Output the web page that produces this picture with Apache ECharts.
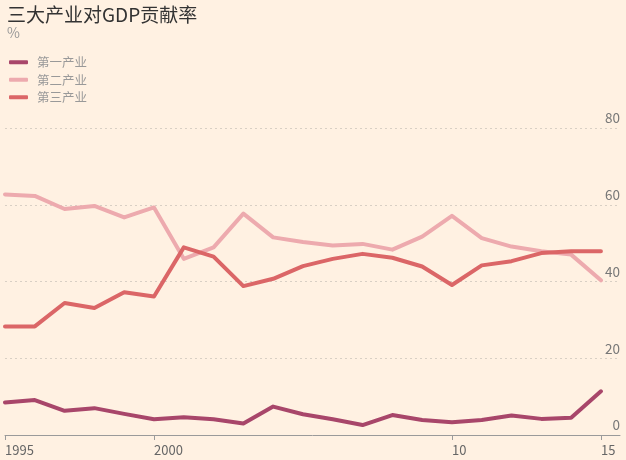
<!DOCTYPE html>
<html>
<head>
<meta charset="utf-8">
<style>
html,body{margin:0;padding:0;background:#FFF1E2;}
#c{width:626px;height:460px;}
</style>
<script src="https://cdn.jsdelivr.net/npm/echarts@6/dist/echarts.min.js"></script>
</head>
<body>
<div id="c"></div>
<script>
const years = [1995,1996,1997,1998,1999,2000,2001,2002,2003,2004,2005,2006,2007,2008,2009,2010,2011,2012,2013,2014,2015];
const primary = [8.5, 9.1, 6.3, 7.0, 5.5, 4.1, 4.6, 4.1, 3.0, 7.4, 5.4, 4.1, 2.6, 5.2, 3.9, 3.3, 3.9, 5.1, 4.2, 4.5, 11.4];
const secondary = [62.7, 62.3, 58.9, 59.7, 56.7, 59.3, 45.9, 48.9, 57.7, 51.5, 50.3, 49.4, 49.8, 48.3, 51.7, 57.1, 51.3, 49.1, 47.9, 47.0, 40.3];
const tertiary = [28.3, 28.3, 34.4, 33.1, 37.2, 36.1, 48.9, 46.5, 38.8, 40.7, 44.0, 45.9, 47.2, 46.2, 43.9, 39.1, 44.2, 45.3, 47.4, 47.9, 47.9];
const seriesNames = ['第一产业','第二产业','第三产业'];
const xTicks = [1995, 2000, 2010, 2015];
const xTickLabels = {1995:'1995', 2000:'2000', 2010:'10', 2015:'15'};
const yTicks = [0, 20, 40, 60, 80];
const colors = ['#A8466A', '#EDAAAE', '#DB6667'];

const font = '"Noto Sans CJK SC", "Liberation Sans", sans-serif';
const pair = arr => years.map((y, i) => [y, arr[i]]);

const chart = echarts.init(document.getElementById('c'));
chart.setOption({
  backgroundColor: '#FFF1E2',
  animation: false,
  title: {
    text: '三大产业对GDP贡献率',
    subtext: '%',
    left: 2, top: 0,
    itemGap: 2,
    textStyle: {fontSize: 19, fontWeight: 'normal', color: '#333333', fontFamily: font},
    subtextStyle: {fontSize: 14, color: '#999999', fontFamily: font}
  },
  legend: {
    orient: 'vertical',
    left: 4, top: 51,
    itemWidth: 19, itemHeight: 4,
    itemGap: 5,
    icon: 'roundRect',
    textStyle: {fontSize: 12.5, color: '#999999', fontFamily: font, padding: [0,0,0,4]},
    data: seriesNames
  },
  grid: {left: 5, right: 6, top: 128, bottom: 25, containLabel: false},
  xAxis: {
    type: 'value',
    min: 1995, max: 2015.64,
    interval: 5,
    splitLine: {show: false},
    axisLine: {show: true, lineStyle: {color: '#9a9a9a', width: 1}},
    axisTick: {show: true, length: 5, lineStyle: {color: '#9a9a9a'}, customValues: xTicks},
    axisLabel: {
      customValues: xTicks,
      align: 'left', margin: 9,
      fontSize: 13, color: '#666666', fontFamily: font,
      formatter: v => xTickLabels[v] || ''
    }
  },
  yAxis: {
    type: 'value',
    position: 'right',
    min: 0, max: 80, interval: 20,
    axisLine: {show: false},
    axisTick: {show: false},
    splitLine: {show: true, lineStyle: {type: [2, 3], color: '#d8cfc4', width: 1}},
    axisLabel: {
      inside: true, margin: 0,
      verticalAlign: 'bottom',
      padding: [0, 0, 3, 0],
      fontSize: 13.5, color: '#777777', fontFamily: font,
      formatter: v => yTicks.includes(v) ? String(v) : ''
    }
  },
  series: [primary, secondary, tertiary].map((arr, i) => ({
    name: seriesNames[i],
    type: 'line',
    data: pair(arr),
    symbol: 'none',
    smooth: false,
    color: colors[i],
    lineStyle: {width: 4, color: colors[i], join: 'round', cap: 'round'},
    z: 2 + i
  }))
});
</script>
</body>
</html>
